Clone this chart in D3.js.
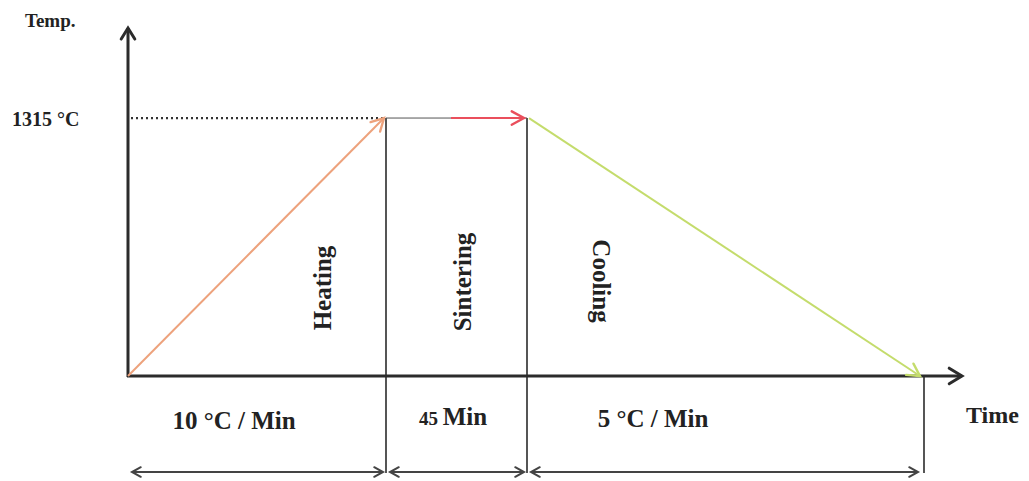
<!DOCTYPE html>
<html>
<head>
<meta charset="utf-8">
<script src="https://cdn.jsdelivr.net/npm/d3@7"></script>
<style>
  html, body { margin: 0; padding: 0; background: #fff; }
  svg { display: block; }
  text { font-family: "Liberation Serif", "Times New Roman", serif; font-weight: bold; fill: #222; }
</style>
</head>
<body>
<svg id="chart" width="1029" height="481"></svg>
<script>
// Sintering schedule (schematic time axis, temperature in °C)
const stageNames = ["Heating", "Sintering", "Cooling"];
const stageRates = ["10 °C / Min", "45 Min", "5 °C / Min"];
const stageStart = [0, 258, 399];          // schematic time units
const stageEnd   = [258, 399, 794];
const stageTempStart = [0, 1315, 1315];    // °C
const stageTempEnd   = [1315, 1315, 0];
const stageColors = ["#eda27c", "#ea4f5c", "#c4dc6c"];
const peakTemp = 1315;
const peakLabel = "1315 °C";
const timeMax = 834;
const tempMax = 1774;

const svg = d3.select("#chart");
const x = d3.scaleLinear().domain([0, timeMax]).range([128, 962]);
const y = d3.scaleLinear().domain([0, tempMax]).range([376, 28]);

const ink = "#2b2b2b";

// chevron-style arrowhead
function chevron(g, tipX, tipY, angle, len, spread, color, width) {
  const a1 = angle + Math.PI - spread, a2 = angle + Math.PI + spread;
  g.append("path")
    .attr("d", `M${tipX + len * Math.cos(a1)},${tipY + len * Math.sin(a1)} L${tipX},${tipY} L${tipX + len * Math.cos(a2)},${tipY + len * Math.sin(a2)}`)
    .attr("fill", "none").attr("stroke", color).attr("stroke-width", width)
    .attr("stroke-linecap", "round").attr("stroke-linejoin", "miter");
}

const g = svg.append("g");

// dotted guide at the peak temperature
g.append("line")
  .attr("x1", x(0) + 3).attr("x2", x(stageEnd[0]) - 2)
  .attr("y1", y(peakTemp)).attr("y2", y(peakTemp))
  .attr("stroke", "#333").attr("stroke-width", 2.2).attr("stroke-dasharray", "2,3");

// stage boundaries
const boundY = 473;
g.append("line").attr("x1", x(stageEnd[0])).attr("x2", x(stageEnd[0]))
  .attr("y1", y(peakTemp)).attr("y2", boundY).attr("stroke", ink).attr("stroke-width", 1.6);
g.append("line").attr("x1", x(stageEnd[1])).attr("x2", x(stageEnd[1]))
  .attr("y1", y(peakTemp)).attr("y2", boundY).attr("stroke", ink).attr("stroke-width", 1.6);
g.append("line").attr("x1", x(stageEnd[2]) + 2).attr("x2", x(stageEnd[2]) + 2)
  .attr("y1", y(0)).attr("y2", boundY).attr("stroke", ink).attr("stroke-width", 1.6);

// thin baseline under the holding segment
g.append("line")
  .attr("x1", x(stageStart[1])).attr("x2", x(stageEnd[1]))
  .attr("y1", y(peakTemp)).attr("y2", y(peakTemp))
  .attr("stroke", "#555").attr("stroke-width", 1);

// axes
g.append("line").attr("x1", x(0)).attr("x2", x(0)).attr("y1", y(0) + 1).attr("y2", y(tempMax))
  .attr("stroke", ink).attr("stroke-width", 3);
chevron(g, x(0), y(tempMax), -Math.PI / 2, 13, 0.55, ink, 3);
g.append("line").attr("x1", x(0) - 1).attr("x2", x(timeMax)).attr("y1", y(0)).attr("y2", y(0))
  .attr("stroke", ink).attr("stroke-width", 3);
chevron(g, x(timeMax), y(0), 0, 15, 0.55, ink, 3);

// temperature profile
stageNames.forEach((name, i) => {
  const x1 = x(stageStart[i]) + (i === 2 ? 2 : 0), y1 = y(stageTempStart[i]);
  const x2 = x(stageEnd[i]) - (i === 0 ? 2 : (i === 1 ? 3 : 2)), y2 = y(stageTempEnd[i]);
  const sx = i === 1 ? (x1 + x2) / 2 - 4 : x1;
  g.append("line").attr("x1", sx).attr("y1", y1).attr("x2", x2).attr("y2", y2)
    .attr("stroke", stageColors[i]).attr("stroke-width", 2);
  const ang = Math.atan2(y2 - y1, x2 - x1);
  chevron(g, x2, y2, ang, 14, 0.5, stageColors[i], 2.4);
});

// stage names (rotated)
const nameX = [322, 462, 601];
const nameY = [288, 282, 281];
const nameRot = [-90, -90, 90];
stageNames.forEach((name, i) => {
  g.append("text")
    .attr("transform", `translate(${nameX[i]},${nameY[i]}) rotate(${nameRot[i]})`)
    .attr("text-anchor", "middle").attr("dominant-baseline", "central")
    .attr("font-size", 25).text(name);
});

// duration arrows below the axis
const durY = 472;
const durGray = "#444";
stageNames.forEach((name, i) => {
  const a = x(stageStart[i]) + 4, b = x(stageEnd[i]) - 3 + (i === 2 ? -1 : 0);
  g.append("line").attr("x1", a).attr("x2", b).attr("y1", durY).attr("y2", durY)
    .attr("stroke", durGray).attr("stroke-width", 1.8);
  chevron(g, a, durY, Math.PI, 10, 0.5, durGray, 2);
  chevron(g, b, durY, 0, 10, 0.5, durGray, 2);
});

// rate / duration labels
const rateX = [234, 453, 653];
const rateY = [429, 425, 427];
stageRates.forEach((t, i) => {
  const tx = g.append("text").attr("x", rateX[i]).attr("y", rateY[i])
    .attr("text-anchor", "middle").attr("font-size", 25);
  if (i === 1) {
    const parts = t.split(" ");
    tx.append("tspan").attr("font-size", 19).text(parts[0] + " ");
    tx.append("tspan").text(parts[1]);
  } else {
    tx.text(t);
  }
});

// axis titles
g.append("text").attr("x", 25).attr("y", 27).attr("font-size", 19).text("Temp.");
g.append("text").attr("x", 12).attr("y", 126).attr("font-size", 20).text(peakLabel);
g.append("text").attr("x", 966).attr("y", 423).attr("font-size", 24).text("Time");
</script>
</body>
</html>
